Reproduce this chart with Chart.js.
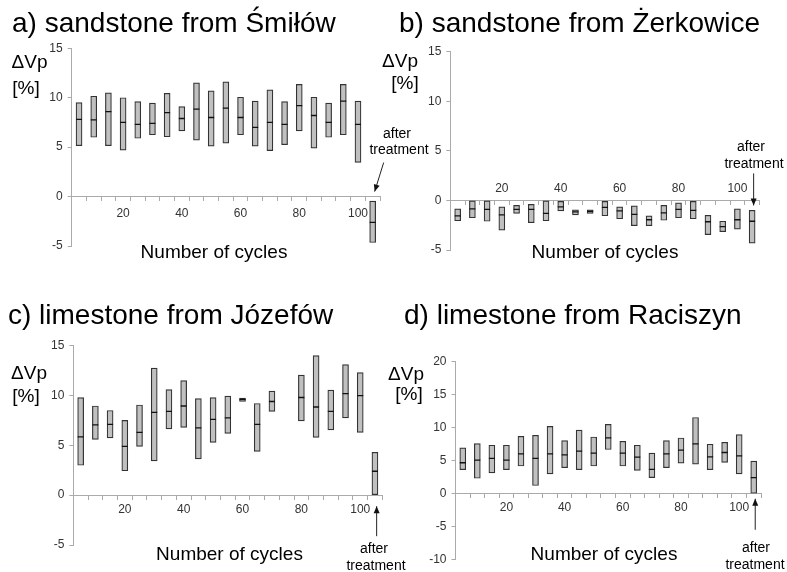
<!DOCTYPE html>
<html>
<head>
<meta charset="utf-8">
<script src="https://cdn.jsdelivr.net/npm/chart.js@4.4.1/dist/chart.umd.min.js"></script>
<style>
  html, body { margin: 0; padding: 0; background: #fff; }
  #wrap { position: relative; width: 787px; height: 572px; overflow: hidden; }
  #wrap canvas { position: absolute; left: 0; top: 0; }
</style>
</head>
<body>
<div id="wrap">
  <canvas id="chartA" width="787" height="572"></canvas>
  <canvas id="chartB" width="787" height="572"></canvas>
  <canvas id="chartC" width="787" height="572"></canvas>
  <canvas id="chartD" width="787" height="572"></canvas>
</div>
<script>
// categories: every 5 cycles, last slot is "after treatment"
const cycles = ['5','10','15','20','25','30','35','40','45','50','55','60','65','70','75','80','85','90','95','100',''];
const shownTicks = ['20','40','60','80','100'];

// a) sandstone from Śmiłów
const aHigh = [9.5, 10.15, 10.5, 10.0, 9.6, 9.45, 10.45, 9.1, 11.5, 10.7, 11.6, 10.05, 9.65, 10.8, 9.6, 11.35, 10.05, 9.45, 11.35, 9.65, -0.45];
const aMed  = [7.8, 7.75, 8.6, 7.5, 7.3, 7.4, 8.5, 7.9, 8.85, 8.0, 8.95, 8.0, 7.0, 7.5, 7.3, 9.2, 8.2, 7.5, 9.65, 7.3, -2.6];
const aLow  = [5.15, 6.0, 5.15, 4.7, 5.9, 6.25, 6.05, 6.65, 5.7, 5.1, 5.4, 6.25, 5.1, 4.65, 5.25, 6.65, 4.9, 6.0, 6.25, 3.45, -4.65];

// b) sandstone from Żerkowice
const bHigh = [-0.85, -0.05, -0.05, -0.65, -0.5, -0.4, -0.05, -0.1, -0.95, -0.95, -0.1, -0.65, -0.55, -1.55, -0.5, -0.25, -0.1, -1.5, -2.1, -0.85, -1.0];
const bMed  = [-1.55, -0.85, -0.9, -1.45, -0.9, -0.9, -1.3, -0.65, -1.15, -1.1, -0.7, -1.05, -1.4, -1.95, -1.25, -0.9, -1.0, -2.15, -2.65, -1.95, -2.1];
const bLow  = [-2.05, -1.75, -2.1, -3.0, -1.3, -2.25, -2.05, -1.05, -1.45, -1.3, -1.55, -1.85, -2.55, -2.55, -2.0, -1.75, -1.85, -3.45, -3.15, -2.9, -4.3];

// c) limestone from Józefów (no measurement at 75 cycles)
const cHigh = [9.8, 8.95, 8.5, 7.5, 9.05, 12.75, 10.6, 11.5, 9.7, 9.8, 9.95, 9.75, 9.2, 10.45, null, 12.05, 14.0, 10.55, 13.1, 12.3, 4.3];
const cMed  = [5.85, 7.05, 7.1, 4.9, 6.3, 8.3, 8.4, 8.95, 6.75, 7.6, 7.75, 9.6, 7.1, 9.4, null, 9.8, 8.85, 8.4, 10.2, 10.0, 2.4];
const cLow  = [3.0, 5.6, 5.75, 2.45, 4.9, 3.45, 6.65, 6.8, 3.65, 5.3, 6.2, 9.4, 4.4, 8.4, null, 7.45, 5.8, 6.55, 7.75, 6.3, 0];

// d) limestone from Raciszyn
const dHigh = [6.95, 7.6, 7.35, 7.35, 8.7, 8.85, 10.2, 8.05, 9.65, 8.6, 10.5, 7.95, 7.35, 6.15, 8.05, 8.45, 11.55, 7.5, 7.8, 8.95, 4.95];
const dMed  = [4.7, 5.1, 5.35, 5.1, 6.05, 5.35, 6.05, 5.9, 6.45, 6.15, 8.45, 6.15, 5.55, 3.7, 6.05, 6.6, 7.55, 5.6, 6.25, 5.75, 2.45];
const dLow  = [3.65, 2.35, 3.15, 3.65, 4.2, 1.25, 3.0, 3.95, 3.65, 4.2, 6.7, 4.2, 3.55, 2.45, 3.95, 4.65, 4.5, 3.65, 4.75, 3.0, 0];

const FONT = '"Liberation Sans", Arial, sans-serif';
const Y_AXIS_W = 40;

// titles, unit label, axis name, "after treatment" note and arrow
const panelText = {
    id: 'panelText',
    afterDraw(chart, args, o) {
        const ctx = chart.ctx;
        const xs = chart.scales.x, ys = chart.scales.y;
        ctx.save();
        ctx.fillStyle = '#000';
        ctx.textBaseline = 'alphabetic';

        ctx.font = '28px ' + FONT;
        ctx.textAlign = 'left';
        ctx.fillText(o.title, o.titleX, o.titleY);

        ctx.font = '19px ' + FONT;
        ctx.textAlign = 'center';
        ctx.fillText('\u0394Vp', o.unitX[0], o.unitY[0]);
        ctx.fillText('[%]', o.unitX[1], o.unitY[1]);
        ctx.fillText('Number of cycles', o.cyclesX, o.cyclesY);

        ctx.font = '14px ' + FONT;
        ctx.fillText('after', o.afterX[0], o.afterY[0]);
        ctx.fillText('treatment', o.afterX[1], o.afterY[1]);

        // arrow points at the "after treatment" bar
        const bx = xs.getPixelForValue(cycles.length - 1);
        const zy = ys.getPixelForValue(0);
        const tx = bx + o.arrowTip[0], ty = zy + o.arrowTip[1];
        const fx = bx + o.arrowFrom[0], fy = zy + o.arrowFrom[1];
        ctx.strokeStyle = '#222';
        ctx.fillStyle = '#111';
        ctx.lineWidth = 1;
        ctx.beginPath();
        ctx.moveTo(fx, fy);
        ctx.lineTo(tx, ty);
        ctx.stroke();
        const ang = Math.atan2(ty - fy, tx - fx);
        const c = Math.cos(ang), s = Math.sin(ang);
        ctx.beginPath();
        ctx.moveTo(tx, ty);
        ctx.lineTo(tx - 7 * c + 3 * s, ty - 7 * s - 3 * c);
        ctx.lineTo(tx - 7 * c - 3 * s, ty - 7 * s + 3 * c);
        ctx.closePath();
        ctx.fill();
        ctx.restore();
    }
};

function makePanel(id, lows, meds, highs, p) {
    const ranges = lows.map((lo, i) => lo === null ? null : [lo, highs[i]]);
    return new Chart(document.getElementById(id), {
        type: 'bar',
        data: {
            labels: cycles,
            datasets: [{
                label: 'range',
                data: ranges,
                backgroundColor: '#c0c0c0',
                borderColor: '#333',
                borderWidth: 1.2,
                borderSkipped: false,
                barThickness: 6,
                order: 2
            }, {
                type: 'line',
                label: 'median',
                data: meds,
                showLine: false,
                pointStyle: 'line',
                pointRadius: 3,
                pointBorderWidth: 1.3,
                pointBorderColor: '#111',
                order: 1
            }]
        },
        options: {
            responsive: false,
            animation: false,
            events: [],
            layout: { padding: p.padding },
            plugins: {
                legend: { display: false },
                tooltip: { enabled: false },
                panelText: p.text
            },
            scales: {
                x: {
                    type: 'category',
                    position: { y: 0 },
                    offset: true,
                    grid: { offset: true, drawOnChartArea: false, drawTicks: true, tickLength: 4, color: '#aaa' },
                    border: { color: '#aaa', width: 1 },
                    ticks: {
                        autoSkip: false,
                        maxRotation: 0,
                        padding: p.xPad,
                        color: '#333',
                        font: { family: FONT, size: 12 },
                        callback: function(value) {
                            const l = this.getLabelForValue(value);
                            return shownTicks.includes(l) ? l : '';
                        }
                    }
                },
                y: {
                    min: p.yMin,
                    max: p.yMax,
                    grid: { drawOnChartArea: false, drawTicks: true, tickLength: 4, color: '#aaa' },
                    border: { color: '#aaa', width: 1 },
                    ticks: { stepSize: 5, padding: 5, color: '#333', font: { family: FONT, size: 12 } },
                    afterFit: (scale) => { scale.width = Y_AXIS_W; }
                }
            }
        },
        plugins: [panelText]
    });
}

// chart area edges on the 787x572 page: left, right, top, bottom
function pad(l, r, t, b) {
    return { left: l - Y_AXIS_W, right: 787 - r, top: t, bottom: 572 - b };
}

makePanel('chartA', aLow, aMed, aHigh, {
    padding: pad(71.7, 380, 48.3, 246), yMin: -5, yMax: 15, xPad: 6,
    text: { title: 'a) sandstone from Śmiłów', titleX: 12, titleY: 31.5,
            unitX: [29.5, 26], unitY: [68, 94], cyclesX: 214, cyclesY: 258,
            afterX: [397, 399], afterY: [138, 154], arrowTip: [2, -5], arrowFrom: [11, -34] }
});
makePanel('chartB', bLow, bMed, bHigh, {
    padding: pad(450.3, 759.5, 51.7, 250), yMin: -5, yMax: 15, xPad: -22.5,
    text: { title: 'b) sandstone from Żerkowice', titleX: 399, titleY: 31.5,
            unitX: [400, 405], unitY: [67, 89], cyclesX: 605, cyclesY: 258,
            afterX: [751, 754], afterY: [151, 168], arrowTip: [1.5, 5], arrowFrom: [1.5, -27] }
});
makePanel('chartC', cLow, cMed, cHigh, {
    padding: pad(73.3, 382.3, 345.7, 545), yMin: -5, yMax: 15, xPad: 3.5,
    text: { title: 'c) limestone from Józefów', titleX: 8, titleY: 324,
            unitX: [29, 26], unitY: [378.5, 401.5], cyclesX: 229.5, cyclesY: 560,
            afterX: [374, 376], afterY: [553, 570], arrowTip: [1.7, 11], arrowFrom: [1.7, 41] }
});
makePanel('chartD', dLow, dMed, dHigh, {
    padding: pad(455.5, 761, 361.7, 560.7), yMin: -10, yMax: 20, xPad: 2.8,
    text: { title: 'd) limestone from Raciszyn', titleX: 404, titleY: 324,
            unitX: [406, 409], unitY: [380, 400], cyclesX: 604, cyclesY: 560,
            afterX: [756, 755], afterY: [552, 568.5], arrowTip: [1.5, 5], arrowFrom: [1.5, 36] }
});
</script>
</body>
</html>
